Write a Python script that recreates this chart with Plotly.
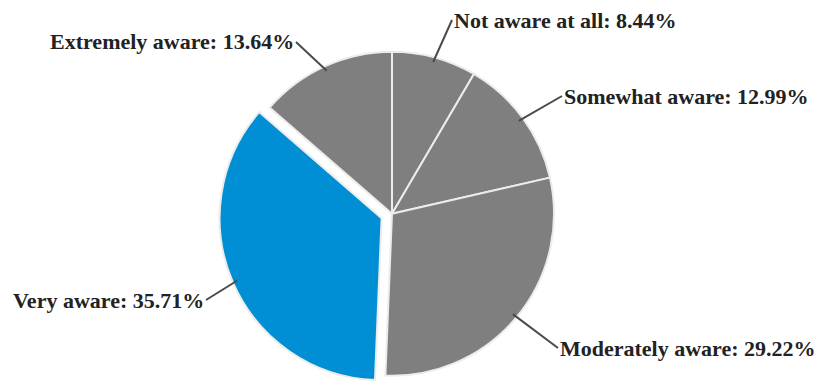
import plotly.graph_objects as go
import math

labels = ["Not aware at all", "Somewhat aware", "Moderately aware", "Very aware", "Extremely aware"]
values = [8.44, 12.99, 29.22, 35.71, 13.64]
colors = ["#7f7f7f", "#7f7f7f", "#7f7f7f", "#008fd5", "#7f7f7f"]
pulls = [0, 0, 0, 0.07, 0]

W, H = 822, 387
cx = 392                   # pie centre x in pixels
r = 162                    # pie radius in pixels
half = r * (1 + max(pulls))
cy = H - half              # pie sits on the bottom edge

fig = go.Figure(go.Pie(
    labels=labels, values=values, sort=False, direction="clockwise", rotation=0,
    marker=dict(colors=colors, line=dict(color="#ececec", width=2)),
    pull=pulls, textinfo="none", hoverinfo="label+percent", showlegend=False,
    domain=dict(x=[(cx - half) / W, (cx + half) / W], y=[0, 2 * half / H]),
))

# label tails (pixel) and anchors
tails = [(452, 20, "left"), (562, 96, "left"), (558, 348, "left"), (206, 300, "right"), (296, 42, "right")]

total = sum(values)
cum = 0
for lab, v, p, (tx, ty, anc) in zip(labels, values, pulls, tails):
    mid = (cum + v / 2) / total * 2 * math.pi
    cum += v
    rr = r * 0.97 + p * r
    px = cx + rr * math.sin(mid)
    py = cy - rr * math.cos(mid)
    fig.add_annotation(
        x=px / W, y=1 - py / H, xref="paper", yref="paper",
        ax=tx - px, ay=ty - py, axref="pixel", ayref="pixel",
        text=f"<b>{lab}: {v:.2f}%</b>", showarrow=True, arrowhead=0, arrowwidth=2,
        arrowcolor="#4a4a4a", standoff=0, xanchor=anc, yanchor="middle",
        font=dict(family="Liberation Serif", size=22, color="#222222"),
    )

fig.update_layout(
    width=W, height=H, margin=dict(l=0, r=0, t=0, b=0),
    paper_bgcolor="white", plot_bgcolor="white",
)
fig.write_html("out.html", post_script="document.body.style.margin='0';",
               config={"displayModeBar": False})
